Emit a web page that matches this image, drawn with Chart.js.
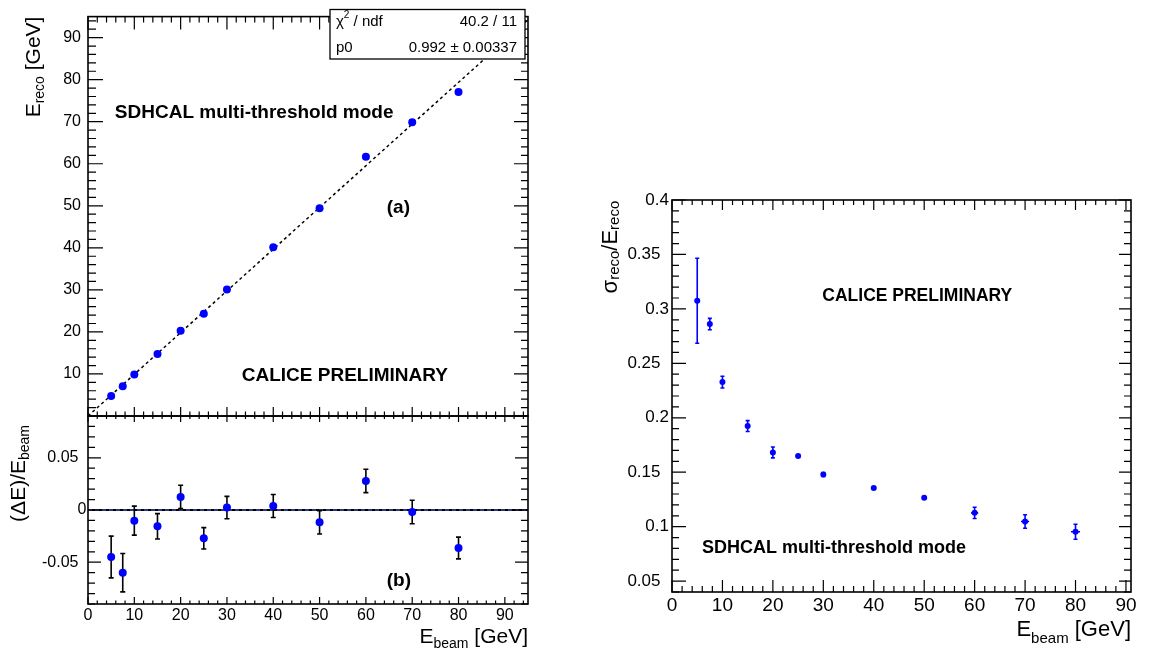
<!DOCTYPE html>
<html>
<head>
<meta charset="utf-8">
<title>SDHCAL linearity and resolution</title>
<script src="https://cdn.jsdelivr.net/npm/chart.js@4.4.1/dist/chart.umd.min.js"></script>
<style>
  html, body { margin: 0; padding: 0; background: #fff; }
  #page { position: relative; width: 1152px; height: 650px; overflow: hidden; }
  #page canvas { position: absolute; left: 0; top: 0; }
</style>
</head>
<body>
<div id="page">
  <canvas id="linearity" width="1152" height="650"></canvas>
  <canvas id="deviation" width="1152" height="650"></canvas>
  <canvas id="resolution" width="1152" height="650"></canvas>
</div>
<script>
// beam energies of the runs [GeV]
const beamEnergy = [5, 7.5, 10, 15, 20, 25, 30, 40, 50, 60, 70, 80];
const beamEnergyErr = [0, 0, 0, 0, 0, 0, 0, 0, 0, 0.7, 0.8, 0.9];

// (a) reconstructed energy + linear fit
const recoEnergy = [4.78, 7.05, 9.9, 14.77, 20.25, 24.32, 30.07, 40.15, 49.41, 61.67, 69.87, 77.09];
const fitSlope = 0.992;
const fitRange = [0, 95];

// (b) relative deviation
const deviation = [-0.045, -0.060, -0.0102, -0.0156, 0.0125, -0.0271, 0.0023, 0.0038, -0.0118, 0.0278, -0.0019, -0.0364];
const deviationErr = [0.020, 0.0184, 0.0139, 0.0121, 0.0112, 0.0102, 0.0107, 0.011, 0.0112, 0.0112, 0.0112, 0.0104];

// resolution
const resolution = [0.3075, 0.2861, 0.2328, 0.1924, 0.1682, 0.1648, 0.148, 0.1354, 0.1265, 0.1127, 0.1048, 0.0953];
const resolutionErr = [0.039, 0.0052, 0.0054, 0.005, 0.005, 0.0008, 0.0018, 0.0008, 0.0008, 0.0052, 0.0062, 0.0069];

// tick labels
const energyTicks = [0, 10, 20, 30, 40, 50, 60, 70, 80, 90];
const recoTicks = [10, 20, 30, 40, 50, 60, 70, 80, 90];
const deviationTicks = [-0.05, 0, 0.05];
const resolutionTicks = [0.05, 0.1, 0.15, 0.2, 0.25, 0.3, 0.35, 0.4];

const FONT = "'Liberation Sans', Arial, Helvetica, sans-serif";
const BLUE = '#0000ff';

function pts(xs, ys) {
  return xs.map((x, i) => ({ x: x, y: ys[i] }));
}

function axis(min, max, ticks, o) {
  return {
    type: 'linear', min: min, max: max,
    afterBuildTicks: s => { s.ticks = ticks.map(v => ({ value: v })); },
    afterFit: s => {
      if (o.w != null) s.width = o.w;
      if (o.h != null) s.height = o.h;
    },
    grid: { display: false, drawTicks: false, tickLength: 0 },
    border: { display: false },
    ticks: {
      display: o.show !== false,
      padding: o.pad || 0,
      color: '#000',
      autoSkip: false,
      maxRotation: 0,
      font: { family: FONT, size: o.size || 16 },
      callback: o.fmt || (v => String(v))
    }
  };
}

// ROOT style frame with inner major / minor ticks on all four sides
const frameTicks = {
  id: 'frameTicks',
  afterDatasetsDraw(chart, args, o) {
    if (!o.x) return;
    const ctx = chart.ctx, a = chart.chartArea;
    const sx = chart.scales.x, sy = chart.scales.y;
    const marks = (scale, major, minor) => {
      const out = [];
      const n0 = Math.ceil(scale.min / minor - 1e-6), n1 = Math.floor(scale.max / minor + 1e-6);
      const every = Math.round(major / minor);
      for (let i = n0; i <= n1; i++) {
        out.push({ px: scale.getPixelForValue(i * minor), major: i % every === 0 });
      }
      return out;
    };
    ctx.save();
    ctx.strokeStyle = '#000';
    ctx.lineWidth = 1.2;
    ctx.beginPath();
    marks(sx, o.x[0], o.x[1]).forEach(m => {
      const k = m.major ? 0 : 1;
      ctx.moveTo(m.px, a.bottom); ctx.lineTo(m.px, a.bottom - o.bottom[k]);
      ctx.moveTo(m.px, a.top); ctx.lineTo(m.px, a.top + o.top[k]);
    });
    marks(sy, o.y[0], o.y[1]).forEach(m => {
      const k = m.major ? 0 : 1;
      ctx.moveTo(a.left, m.px); ctx.lineTo(a.left + o.left[k], m.px);
      ctx.moveTo(a.right, m.px); ctx.lineTo(a.right - o.right[k], m.px);
    });
    ctx.stroke();
    ctx.lineWidth = 1.6;
    ctx.strokeRect(a.left, a.top, a.width, a.height);
    ctx.restore();
  }
};

const errorBars = {
  id: 'errorBars',
  beforeDatasetDraw(chart, args) {
    const ds = chart.data.datasets[args.index];
    if (!ds.errY) return;
    const ctx = chart.ctx, sx = chart.scales.x, sy = chart.scales.y;
    const c = ds.capSize || 2;
    ctx.save();
    ctx.strokeStyle = ds.errColor || '#000';
    ctx.lineWidth = ds.errWidth || 1.5;
    ctx.beginPath();
    ds.data.forEach((p, i) => {
      const px = sx.getPixelForValue(p.x), py = sy.getPixelForValue(p.y);
      const ey = ds.errY[i];
      if (ey) {
        const top = sy.getPixelForValue(p.y + ey), bot = sy.getPixelForValue(p.y - ey);
        ctx.moveTo(px, top); ctx.lineTo(px, bot);
        ctx.moveTo(px - c, top); ctx.lineTo(px + c, top);
        ctx.moveTo(px - c, bot); ctx.lineTo(px + c, bot);
      }
      const ex = ds.errX ? ds.errX[i] : 0;
      if (ex) {
        ctx.moveTo(sx.getPixelForValue(p.x - ex), py);
        ctx.lineTo(sx.getPixelForValue(p.x + ex), py);
      }
    });
    ctx.stroke();
    ctx.restore();
  }
};

function drawRich(ctx, a, t) {
  const f = sz => sz + 'px ' + FONT;
  const x = (t.fromRight ? a.right : a.left) + t.dx;
  const y = (t.fromBottom ? a.bottom : a.top) + t.dy;
  ctx.save();
  ctx.fillStyle = '#000';
  ctx.textBaseline = 'alphabetic';
  ctx.textAlign = 'left';
  let w = 0;
  t.parts.forEach(p => { ctx.font = f(p.sub ? t.sub : t.size); w += ctx.measureText(p.text).width; });
  ctx.translate(x, y);
  if (t.vertical) ctx.rotate(-Math.PI / 2);
  let cx = -w;
  t.parts.forEach(p => {
    ctx.font = f(p.sub ? t.sub : t.size);
    ctx.fillText(p.text, cx, p.sub ? t.drop : 0);
    cx += ctx.measureText(p.text).width;
  });
  ctx.restore();
}

function drawStats(ctx, s) {
  ctx.save();
  ctx.fillStyle = '#fff';
  ctx.fillRect(s.box[0], s.box[1], s.box[2], s.box[3]);
  ctx.strokeStyle = '#000';
  ctx.lineWidth = 1.3;
  ctx.strokeRect(s.box[0], s.box[1], s.box[2], s.box[3]);
  ctx.fillStyle = '#000';
  ctx.textBaseline = 'middle';
  const left = s.box[0] + 6, right = s.box[0] + s.box[2] - 8;
  s.rows.forEach((r, i) => {
    const y = s.box[1] + s.rowY[i];
    let cx = left;
    ctx.textAlign = 'left';
    r.name.forEach(p => {
      ctx.font = (p.sup ? 10 : 15) + 'px ' + FONT;
      ctx.fillText(p.text, cx, p.sup ? y - 6 : y);
      cx += ctx.measureText(p.text).width;
    });
    ctx.font = '15px ' + FONT;
    ctx.textAlign = 'right';
    ctx.fillText(r.value, right, y);
  });
  ctx.restore();
}

const decorations = {
  id: 'decorations',
  afterDraw(chart, args, o) {
    const ctx = chart.ctx, a = chart.chartArea;
    const sx = chart.scales.x, sy = chart.scales.y;
    (o.notes || []).forEach(n => {
      ctx.save();
      ctx.font = 'bold ' + n.size + 'px ' + FONT;
      ctx.fillStyle = '#000';
      ctx.textBaseline = 'middle';
      ctx.textAlign = 'left';
      ctx.fillText(n.text, sx.getPixelForValue(n.x), sy.getPixelForValue(n.y));
      ctx.restore();
    });
    (o.titles || []).forEach(t => drawRich(ctx, a, t));
    if (o.stats) drawStats(ctx, o.stats);
  }
};

Chart.register(frameTicks, errorBars, decorations);

const base = {
  responsive: false,
  animation: false,
  devicePixelRatio: 1,
  events: []
};

// (a) linearity
new Chart(document.getElementById('linearity'), {
  type: 'scatter',
  data: {
    datasets: [{
      data: pts(beamEnergy, recoEnergy),
      pointRadius: 4, pointBackgroundColor: BLUE, pointBorderWidth: 0
    }, {
      data: fitRange.map(x => ({ x: x, y: fitSlope * x })),
      showLine: true, borderColor: '#000', borderWidth: 1.5, borderDash: [3, 3], pointRadius: 0
    }]
  },
  options: Object.assign({}, base, {
    layout: { padding: { left: 28, right: 624, top: 16, bottom: 234 } },
    scales: {
      x: axis(0, 95, energyTicks, { show: false, h: 0 }),
      y: axis(0, 95, recoTicks, { w: 60, pad: 7, size: 16 })
    },
    plugins: {
      legend: { display: false },
      tooltip: { enabled: false },
      frameTicks: { x: [10, 2], y: [10, 2], top: [13, 6], bottom: [9, 4.5], left: [15, 8], right: [14, 7] },
      decorations: {
        notes: [
          { text: 'SDHCAL multi-threshold mode', x: 5.8, y: 72.2, size: 19 },
          { text: '(a)', x: 64.5, y: 49.6, size: 19 },
          { text: 'CALICE PRELIMINARY', x: 33.2, y: 9.5, size: 19 }
        ],
        titles: [{
          parts: [{ text: 'E' }, { text: 'reco', sub: true }, { text: ' [GeV]' }],
          dx: -48, dy: 0, size: 21, sub: 14, drop: 3.5, vertical: true
        }],
        stats: {
          box: [330, 9.5, 195, 49.5],
          rowY: [12, 38],
          rows: [
            { name: [{ text: '\u03c7' }, { text: '2', sup: true }, { text: ' / ndf' }], value: '40.2 / 11' },
            { name: [{ text: 'p0' }], value: '0.992 \u00b1 0.00337' }
          ]
        }
      }
    }
  })
});

// (b) relative deviation
new Chart(document.getElementById('deviation'), {
  type: 'scatter',
  data: {
    datasets: [{
      data: pts(beamEnergy, deviation),
      errY: deviationErr, errColor: '#000', errWidth: 1.6, capSize: 2.5,
      pointRadius: 4, pointBackgroundColor: BLUE, pointBorderWidth: 0
    }, {
      data: [{ x: 0, y: 0 }, { x: 95, y: 0 }],
      showLine: true, borderColor: '#5a6cff', borderWidth: 1, borderDash: [4, 3], pointRadius: 0
    }, {
      data: [{ x: 0, y: 0 }, { x: 95, y: 0 }],
      showLine: true, borderColor: '#000', borderWidth: 2, pointRadius: 0
    }]
  },
  options: Object.assign({}, base, {
    layout: { padding: { left: 28, right: 624, top: 416, bottom: 16 } },
    scales: {
      x: axis(0, 95, energyTicks, { h: 30, pad: 1.5, size: 16 }),
      y: axis(-0.09, 0.09, deviationTicks, {
        w: 60, pad: 1.5, size: 16,
        fmt: v => (v === 0 ? '0' : v.toFixed(2) + '\u2002')
      })
    },
    plugins: {
      legend: { display: false },
      tooltip: { enabled: false },
      frameTicks: { x: [10, 2], y: [0.05, 0.01], top: [6, 3], bottom: [7, 3.5], left: [13, 7], right: [13, 7] },
      decorations: {
        notes: [{ text: '(b)', x: 64.5, y: -0.0675, size: 19 }],
        titles: [{
          parts: [{ text: '(\u0394E)/E' }, { text: 'beam', sub: true }],
          dx: -63, dy: 9, size: 21, sub: 14, drop: 4, vertical: true
        }, {
          parts: [{ text: 'E' }, { text: 'beam', sub: true }, { text: ' [GeV]' }],
          fromRight: true, fromBottom: true, dx: 0, dy: 39, size: 21, sub: 14, drop: 5
        }]
      }
    }
  })
});

// resolution
new Chart(document.getElementById('resolution'), {
  type: 'scatter',
  data: {
    datasets: [{
      data: pts(beamEnergy, resolution),
      errY: resolutionErr, errX: beamEnergyErr, errColor: BLUE, errWidth: 1.6, capSize: 2,
      pointRadius: 3, pointBackgroundColor: BLUE, pointBorderWidth: 0
    }]
  },
  options: Object.assign({}, base, {
    layout: { padding: { left: 612, right: 21, top: 200, bottom: 28 } },
    scales: {
      x: axis(0, 91, energyTicks, { h: 30, pad: 2.6, size: 19 }),
      y: axis(0.04, 0.4, resolutionTicks, {
        w: 60, pad: 3, size: 17,
        fmt: v => {
          const s = String(Math.round(v * 100) / 100);
          return s.length > 3 ? s + '\u2002' : s;
        }
      })
    },
    plugins: {
      legend: { display: false },
      tooltip: { enabled: false },
      frameTicks: { x: [10, 2], y: [0.05, 0.01], top: [10, 5], bottom: [12, 6], left: [14, 7], right: [12, 7] },
      decorations: {
        notes: [
          { text: 'CALICE PRELIMINARY', x: 29.8, y: 0.312, size: 17.5 },
          { text: 'SDHCAL multi-threshold mode', x: 5.95, y: 0.0803, size: 18 }
        ],
        titles: [{
          parts: [{ text: '\u03c3' }, { text: 'reco', sub: true }, { text: '/E' }, { text: 'reco', sub: true }],
          dx: -55, dy: 0.7, size: 22, sub: 15, drop: 2, vertical: true
        }, {
          parts: [{ text: 'E' }, { text: 'beam', sub: true }, { text: ' [GeV]' }],
          fromRight: true, fromBottom: true, dx: 0, dy: 44, size: 22, sub: 15, drop: 7
        }]
      }
    }
  })
});
</script>
</body>
</html>
